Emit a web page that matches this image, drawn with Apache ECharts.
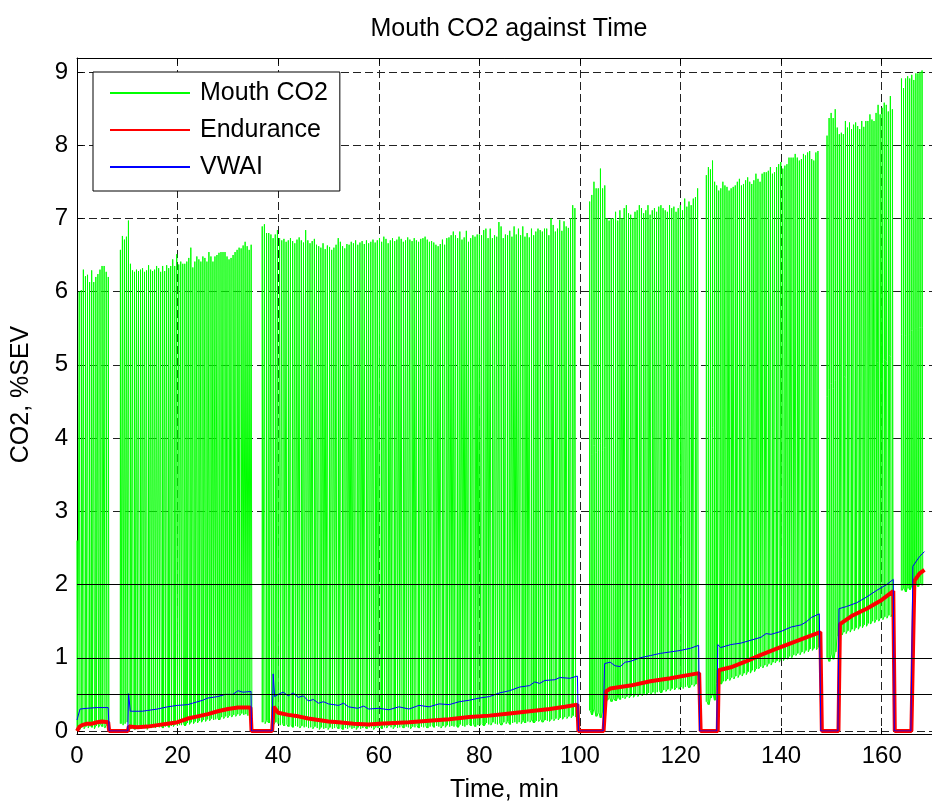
<!DOCTYPE html>
<html>
<head>
<meta charset="utf-8">
<title>Mouth CO2 against Time</title>
<script src="https://cdn.jsdelivr.net/npm/echarts@6/dist/echarts.min.js"></script>
<style>
  html, body { margin: 0; padding: 0; background: #fff; }
  #chart { width: 932px; height: 808px; }
</style>
</head>
<body>
<div id="chart"></div>
<script>
// Mouth CO2 is recorded in blocks [start, end] (min); one peak / trough per breath
const co2Blocks = [[0, 6.6], [8.6, 35.0], [36.8, 99.4], [101.9, 123.8], [125.1, 147.7], [149.1, 162.5], [163.9, 168.4]];

const co2Peaks = [
  [2.6, 6.0, 6.02, 6.3, 6.21, 6.23, 6.13, 6.29, 6.13, 6.2, 6.24, 6.3, 6.35, 6.35, 6.27, 6.2],
  [6.57, 6.76, 6.71, 6.75, 6.97,
   6.38, 6.29, 6.27, 6.30, 6.28, 6.30, 6.32, 6.27, 6.29, 6.36, 6.30, 6.28,
   6.30, 6.35, 6.32, 6.27, 6.35, 6.28, 6.36, 6.32, 6.35, 6.44, 6.35, 6.51, 6.37,
   6.41, 6.38, 6.38, 6.41, 6.46, 6.60,
   6.33, 6.41, 6.48, 6.44, 6.41, 6.48, 6.46, 6.41, 6.54, 6.48, 6.41,
   6.48, 6.50, 6.53, 6.54, 6.54, 6.54, 6.48, 6.44, 6.46, 6.50, 6.54, 6.57, 6.60, 6.59, 6.63, 6.68, 6.62,
   6.57, 6.64],
  [6.89, 6.92, 6.80,
   6.80, 6.78, 6.73, 6.78, 6.84,
   6.73, 6.70, 6.72, 6.68, 6.70, 6.73, 6.69, 6.66, 6.71, 6.74, 6.70, 6.67, 6.84, 6.70, 6.66, 6.69, 6.72,
   6.64, 6.62, 6.60, 6.66, 6.58, 6.63, 6.61, 6.57, 6.60, 6.64, 6.73, 6.68, 6.62, 6.59, 6.65,
   6.64, 6.68, 6.66, 6.70, 6.64, 6.67, 6.69, 6.65, 6.70, 6.66, 6.68, 6.71, 6.67,
   6.70, 6.73, 6.68, 6.75, 6.72, 6.66, 6.70, 6.73, 6.69, 6.71, 6.75, 6.72, 6.68, 6.70, 6.74, 6.71, 6.69, 6.73, 6.70, 6.68, 6.72,
   6.73, 6.75, 6.71, 6.68, 6.69, 6.67, 6.64, 6.62, 6.65, 6.71, 6.64, 6.73, 6.74, 6.77,
   6.82, 6.77, 6.73, 6.82, 6.71, 6.74, 6.83, 6.68, 6.73, 6.77, 6.75, 6.78,
   6.78, 6.77, 6.84, 6.86, 6.73, 6.86, 6.73, 6.77, 6.75, 6.95, 6.89, 6.73, 6.78, 6.77, 6.83, 6.75, 6.89, 6.78,
   6.86, 6.77, 6.89, 6.75, 6.80, 6.74, 6.86, 6.77, 6.82, 6.86, 6.84, 6.82, 6.86, 6.86, 6.77,
   7.00, 6.91, 6.82, 6.86, 6.98, 6.83, 6.96, 6.89, 6.87, 7.00, 7.18, 7.14],
  [7.23, 7.32, 7.50, 7.41, 7.41, 7.68, 7.41, 7.45,
   7.00, 6.97, 7.00, 7.00, 7.09, 6.97, 7.11, 7.00,
   7.14, 7.18, 7.07, 7.05, 7.00, 7.09, 7.11, 7.18, 7.14, 7.07, 7.11, 7.18, 7.05, 7.11, 7.14,
   7.09, 7.16, 7.18, 7.14, 7.11, 7.09, 7.18, 7.14, 7.16, 7.09, 7.14, 7.18, 7.11,
   7.27, 7.16, 7.23, 7.18, 7.27, 7.29, 7.41],
  [7.59, 7.70, 7.67, 7.79, 7.50, 7.45, 7.38, 7.41, 7.50,
   7.45, 7.43, 7.38, 7.41, 7.43, 7.45, 7.50, 7.54, 7.45, 7.47, 7.52, 7.56, 7.50, 7.47, 7.52, 7.61,
   7.54, 7.50, 7.61, 7.63, 7.63, 7.65, 7.70, 7.61,
   7.63, 7.70, 7.74, 7.77, 7.68, 7.72, 7.74, 7.83, 7.83, 7.83,
   7.88, 7.83, 7.79, 7.81, 7.88, 7.86, 7.90, 7.92, 7.81, 7.79, 7.90, 7.92],
  [8.13, 8.37, 8.44, 8.37, 8.49,
   8.24, 8.15, 8.17, 8.15, 8.33, 8.24, 8.31, 8.22, 8.28, 8.31, 8.26, 8.22, 8.33, 8.25, 8.33, 8.33,
   8.42, 8.35, 8.33, 8.44, 8.55, 8.42, 8.51, 8.58, 8.55, 8.46, 8.67, 8.49],
  [8.91, 8.78, 8.91, 8.94, 8.91, 8.96, 8.89, 8.98, 8.98, 9.00, 9.02]
];

const co2Troughs = [
  [0.0, 0.02, 0.05, 0.03, 0.06, 0.04, 0.08, 0.05, 0.03, 0.07, 0.05, 0.09, 0.06, 0.04, 0.08, 0.05],
  [0.1, 0.08, 0.1, 0.12, 0.1,
   0.03, 0.05, 0.02, 0.04, 0.06, 0.03, 0.05, 0.04, 0.02, 0.06, 0.04, 0.05,
   0.04, 0.06, 0.05, 0.07, 0.04, 0.06, 0.08, 0.05, 0.07, 0.06, 0.09, 0.07, 0.08,
   0.08, 0.1, 0.07, 0.11, 0.09, 0.12,
   0.1, 0.13, 0.11, 0.14, 0.12, 0.15, 0.13, 0.16, 0.14, 0.17, 0.15,
   0.16, 0.18, 0.15, 0.19, 0.17, 0.2, 0.18, 0.21, 0.19, 0.22, 0.2, 0.23, 0.21, 0.24, 0.22, 0.23, 0.21,
   0.22, 0.2],
  [0.12, 0.1, 0.14,
   0.11, 0.13, 0.09, 0.12, 0.1,
   0.08, 0.1, 0.07, 0.09, 0.06, 0.08, 0.05, 0.07, 0.06, 0.04, 0.07, 0.05, 0.06, 0.04, 0.05, 0.03, 0.06,
   0.04, 0.02, 0.05, 0.03, 0.04, 0.02, 0.05, 0.03, 0.04, 0.06, 0.03, 0.05, 0.02, 0.04, 0.03,
   0.05, 0.03, 0.04, 0.02, 0.05, 0.03, 0.04, 0.06, 0.03, 0.05, 0.04, 0.02, 0.05,
   0.04, 0.06, 0.03, 0.05, 0.04, 0.07, 0.05, 0.03, 0.06, 0.04, 0.05, 0.07, 0.04, 0.06, 0.05, 0.03, 0.06, 0.05, 0.07, 0.04, 0.06,
   0.05, 0.07, 0.04, 0.06, 0.08, 0.05, 0.07, 0.06, 0.04, 0.07, 0.05, 0.08, 0.06, 0.07,
   0.06, 0.08, 0.05, 0.09, 0.07, 0.06, 0.08, 0.1, 0.07, 0.09, 0.06, 0.08,
   0.08, 0.1, 0.07, 0.11, 0.09, 0.08, 0.12, 0.1, 0.09, 0.11, 0.08, 0.12, 0.1, 0.13, 0.09, 0.11, 0.12, 0.1,
   0.12, 0.1, 0.14, 0.11, 0.13, 0.12, 0.15, 0.11, 0.14, 0.13, 0.16, 0.12, 0.15, 0.14, 0.13,
   0.16, 0.14, 0.17, 0.15, 0.18, 0.16, 0.19, 0.17, 0.2, 0.18, 0.21, 0.19],
  [0.28, 0.22, 0.3, 0.2, 0.25, 0.18, 0.26, 0.3,
   0.42, 0.45, 0.4, 0.44, 0.41, 0.46, 0.43, 0.45,
   0.44, 0.47, 0.45, 0.48, 0.46, 0.49, 0.47, 0.5, 0.48, 0.51, 0.49, 0.52, 0.5, 0.53, 0.51,
   0.53, 0.55, 0.52, 0.56, 0.54, 0.57, 0.55, 0.58, 0.56, 0.59, 0.57, 0.6, 0.58,
   0.6, 0.62, 0.59, 0.63, 0.61, 0.64, 0.62],
  [0.4, 0.36, 0.45, 0.5, 0.42, 0.65, 0.67, 0.64, 0.68,
   0.68, 0.71, 0.69, 0.73, 0.71, 0.75, 0.73, 0.77, 0.75, 0.79, 0.77, 0.81, 0.79, 0.83, 0.81, 0.85,
   0.85, 0.88, 0.86, 0.9, 0.88, 0.92, 0.9, 0.94,
   0.93, 0.96, 0.94, 0.98, 0.96, 1.0, 0.98, 1.02, 1.0, 1.04,
   1.03, 1.06, 1.04, 1.08, 1.06, 1.1, 1.08, 1.12, 1.1, 1.13, 1.11, 1.14],
  [1.0, 0.95, 1.05, 0.98, 1.08,
   1.3, 1.33, 1.31, 1.35, 1.33, 1.37, 1.35, 1.39, 1.37, 1.41, 1.39, 1.43, 1.41, 1.45, 1.43, 1.47,
   1.46, 1.5, 1.48, 1.52, 1.5, 1.54, 1.52, 1.56, 1.54, 1.58, 1.56, 1.6],
  [1.92, 1.95, 1.9, 1.97, 1.93, 1.98, 1.95, 2.0, 1.97, 2.02, 1.99]
];

const enduranceTime = [0, 0.5, 1, 2, 3, 4, 5, 6.2, 6.4, 10.1, 10.3, 12, 14, 16, 18, 20, 22, 24, 26, 28,
  30, 32, 34.5, 34.7, 38.8, 39.1, 40, 42, 44, 46, 48, 50, 52, 55, 58, 60, 63, 66, 70, 74,
  78, 82, 86, 90, 94, 97, 99.5, 99.7, 104.7, 105.2, 106, 110, 114, 118, 122, 123.7, 124, 127.4, 127.6, 130,
  133, 136, 139, 142, 145, 147.8, 148.1, 151.4, 151.7, 154, 157, 160, 162.3, 162.6, 165.9, 166.5, 167.5, 168.5];
const enduranceValue = [0, 0.06, 0.08, 0.1, 0.1, 0.12, 0.13, 0.12, 0, 0, 0.06, 0.05, 0.06, 0.08, 0.1, 0.12, 0.17, 0.2, 0.23, 0.27,
  0.3, 0.32, 0.32, 0, 0, 0.33, 0.25, 0.22, 0.2, 0.17, 0.15, 0.13, 0.12, 0.1, 0.09, 0.1, 0.11, 0.12, 0.14, 0.16,
  0.19, 0.21, 0.24, 0.27, 0.3, 0.33, 0.36, 0, 0, 0.54, 0.58, 0.62, 0.68, 0.72, 0.77, 0.79, 0, 0, 0.83, 0.87,
  0.95, 1.04, 1.12, 1.2, 1.28, 1.35, 0, 0, 1.46, 1.57, 1.67, 1.79, 1.91, 0, 0, 2.05, 2.15, 2.2];

const vwaiTime = [0, 0.6, 2, 4, 6.2, 6.4, 10.1, 10.25, 10.6, 13, 14, 16, 18, 20, 22, 23, 25, 26, 28, 29.5,
  31, 32, 33, 34.6, 34.7, 38.8, 39.0, 39.3, 40, 41, 42, 43, 44, 45, 46, 47, 48, 49, 50, 52,
  53, 54, 55.8, 57, 58, 60, 62, 64, 66, 68, 70, 72, 74, 76, 78, 80, 82, 84, 86, 88,
  90, 91, 92, 93, 95, 96, 98, 99.5, 99.7, 104.6, 104.9, 106, 107, 108, 109, 110, 112, 114, 116, 118,
  120, 122, 123.6, 123.8, 127.2, 127.4, 128, 130, 132, 134, 136, 137, 138, 140, 142, 144, 145, 146, 147.6, 147.9,
  151.3, 151.5, 153, 155, 157, 159, 161, 162.3, 162.5, 165.8, 166.2, 167.5, 168.5];
const vwaiValue = [0.15, 0.3, 0.31, 0.32, 0.32, 0, 0, 0.51, 0.27, 0.27, 0.28, 0.3, 0.33, 0.35, 0.36, 0.38, 0.42, 0.45, 0.47, 0.5,
  0.5, 0.55, 0.53, 0.54, 0, 0, 0.78, 0.47, 0.5, 0.53, 0.48, 0.52, 0.46, 0.48, 0.41, 0.43, 0.38, 0.4, 0.37, 0.35,
  0.38, 0.33, 0.31, 0.34, 0.3, 0.31, 0.29, 0.33, 0.3, 0.35, 0.33, 0.37, 0.36, 0.4, 0.42, 0.45, 0.47, 0.52, 0.55, 0.6,
  0.62, 0.67, 0.65, 0.69, 0.7, 0.73, 0.72, 0.75, 0, 0, 0.92, 0.94, 0.89, 0.88, 0.94, 0.95, 1.0, 1.03, 1.06, 1.08,
  1.1, 1.13, 1.17, 0, 0, 1.18, 1.14, 1.18, 1.2, 1.24, 1.28, 1.33, 1.32, 1.36, 1.42, 1.45, 1.49, 1.55, 1.6, 0,
  0, 1.67, 1.7, 1.75, 1.83, 1.92, 2.0, 2.07, 0, 0, 2.25, 2.38, 2.45];

// reference levels drawn as solid lines
const refLevels = [0.5, 1, 2];

const font = 'Liberation Sans, Arial, Helvetica, sans-serif';

// each breath: trough -> peak -> trough, blocks separated by a gap
const co2Data = [];
co2Blocks.forEach(function (block, b) {
  const peaks = co2Peaks[b];
  const troughs = co2Troughs[b];
  const step = (block[1] - block[0]) / peaks.length;
  peaks.forEach(function (p, i) {
    const t = block[0] + i * step;
    co2Data.push([t, troughs[i]], [t + 0.03, p], [t + 0.17, troughs[i]]);
  });
  co2Data.push([block[1], '-']);
});

const enduranceData = enduranceTime.map((t, i) => [t, enduranceValue[i]]);
const vwaiData = vwaiTime.map((t, i) => [t, vwaiValue[i]]);

const gridLine = { color: '#222', type: [8, 4], width: 1 };
const axisBlack = { color: '#000', width: 1 };

const chart = echarts.init(document.getElementById('chart'));

chart.setOption({
  animation: false,
  backgroundColor: '#fff',
  title: {
    text: 'Mouth CO2 against Time',
    left: 509,
    top: 17,
    textAlign: 'center',
    padding: 0,
    textStyle: { fontFamily: font, fontSize: 25, fontWeight: 'normal', color: '#000' }
  },
  legend: {
    data: ['Mouth CO2', 'Endurance', 'VWAI'],
    orient: 'vertical',
    left: 93,
    top: 72,
    padding: [8, 12, 11, 16],
    itemGap: 11,
    itemWidth: 80,
    itemHeight: 14,
    backgroundColor: '#fff',
    borderColor: '#000',
    borderWidth: 1,
    borderRadius: 0,
    selectedMode: false,
    itemStyle: { opacity: 0 },
    textStyle: { fontFamily: font, fontSize: 25, color: '#000', lineHeight: 26, padding: [0, 0, 0, 5] }
  },
  grid: { left: 77, top: 58, width: 864, height: 680 },
  xAxis: [
    {
      type: 'value',
      min: 0,
      max: 170,
      interval: 20,
      position: 'bottom',
      offset: 3,
      name: 'Time, min',
      nameLocation: 'middle',
      nameGap: 44,
      nameTextStyle: { fontFamily: font, fontSize: 25, color: '#000' },
      axisLine: { show: true, onZero: false, lineStyle: axisBlack },
      axisTick: { inside: true, length: 6, lineStyle: axisBlack },
      axisLabel: { color: '#000', fontFamily: font, fontSize: 24, margin: 10, showMaxLabel: false },
      splitLine: { show: true, lineStyle: gridLine }
    },
    {
      type: 'value',
      min: 0,
      max: 170,
      interval: 20,
      position: 'top',
      axisLine: { show: true, onZero: false, lineStyle: axisBlack },
      axisTick: { inside: true, length: 6, lineStyle: axisBlack },
      axisLabel: { show: false },
      splitLine: { show: false }
    }
  ],
  yAxis: {
    type: 'value',
    min: 0,
    max: 9.19,
    interval: 1,
    name: 'CO2, %SEV',
    nameLocation: 'middle',
    nameGap: 43,
    nameTextStyle: { fontFamily: font, fontSize: 25, color: '#000' },
    axisLine: { show: true, onZero: false, lineStyle: axisBlack },
    axisTick: { inside: true, length: 6, lineStyle: axisBlack },
    axisLabel: { color: '#000', fontFamily: font, fontSize: 24, margin: 9, showMaxLabel: false },
    splitLine: { show: true, lineStyle: gridLine }
  },
  series: [
    {
      name: 'Mouth CO2',
      type: 'line',
      data: co2Data,
      symbol: 'none',
      connectNulls: false,
      lineStyle: { color: '#00ff00', width: 1 },
      itemStyle: { color: '#00ff00' },
      markLine: {
        silent: true,
        symbol: 'none',
        animation: false,
        label: { show: false },
        lineStyle: { color: '#000', type: 'solid', width: 1 },
        data: refLevels.map(v => ({ yAxis: v }))
      }
    },
    {
      name: 'Endurance',
      type: 'line',
      data: enduranceData,
      symbol: 'none',
      lineStyle: { color: '#ff0000', width: 4 },
      itemStyle: { color: '#ff0000' }
    },
    {
      name: 'VWAI',
      type: 'line',
      data: vwaiData,
      symbol: 'none',
      lineStyle: { color: '#0000ff', width: 1 },
      itemStyle: { color: '#0000ff' }
    }
  ]
});
</script>
</body>
</html>
